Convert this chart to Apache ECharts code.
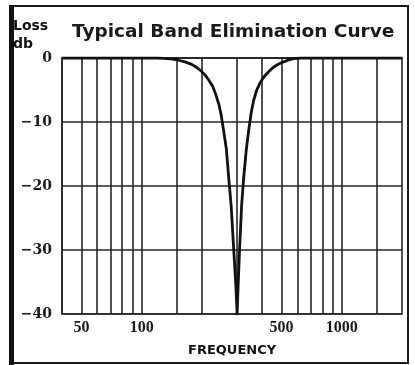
<!DOCTYPE html>
<html>
<head>
<meta charset="utf-8">
<script src="https://cdn.jsdelivr.net/npm/echarts@6/dist/echarts.min.js"></script>
<style>
html,body{margin:0;padding:0;background:#fff;}
#c{width:415px;height:365px;}
</style>
</head>
<body>
<div id="c"></div>
<script>
// Frequency (Hz) and loss (db)
var frequencies = [40, 120, 129, 140, 153, 166, 178, 188, 197, 207, 216, 227, 234, 243, 250, 257, 265, 272, 280, 288, 295, 300,
  304, 309, 316, 324, 333, 343, 353, 363, 376, 389, 407, 432, 457, 484, 513, 543, 575, 624, 2000];
var lossDb = [0, 0, -0.05, -0.15, -0.35, -0.65, -1.0, -1.45, -1.95, -2.6, -3.4, -4.5, -5.6, -7.2, -9.0, -11.4, -14.2, -18.5, -23, -29.5, -35, -40,
  -35, -29.5, -23, -18.5, -14.5, -11.2, -8.5, -6.6, -5.0, -4.0, -3.0, -2.1, -1.4, -0.95, -0.6, -0.3, -0.1, 0, 0];
var gridFreqs = [50, 60, 70, 80, 90, 100, 150, 200, 300, 400, 500, 600, 700, 800, 900, 1000, 1500];
var xTickLabels = [50, 100, 500, 1000];
var yTicks = [0, -10, -20, -30, -40];

var chart = echarts.init(document.getElementById('c'), null, {renderer: 'canvas'});
var lineCol = '#262626';
var data = frequencies.map(function (f, i) { return [f, lossDb[i]]; });

chart.setOption({
  animation: false,
  backgroundColor: '#ffffff',
  grid: {left: 62, right: 13, top: 58, bottom: 51, show: true, borderColor: lineCol, borderWidth: 1.6, backgroundColor: 'transparent'},
  xAxis: {
    type: 'log', logBase: 10, min: 40, max: 2000,
    axisLine: {show: true, lineStyle: {color: lineCol, width: 1.6}},
    axisTick: {show: false},
    splitLine: {show: false},
    minorSplitLine: {show: false},
    axisLabel: {
      customValues: xTickLabels,
      formatter: function (v) { return String(v); },
      margin: 6,
      color: '#1a1a1a', fontFamily: 'Liberation Serif', fontWeight: 'bold', fontSize: 16
    }
  },
  yAxis: {
    type: 'value', min: -40, max: 0, interval: 10,
    axisLine: {show: true, lineStyle: {color: lineCol, width: 1.6}},
    axisTick: {show: false},
    splitLine: {show: true, lineStyle: {color: lineCol, width: 1.6}},
    axisLabel: {
      customValues: yTicks,
      margin: 10, color: '#1a1a1a', fontFamily: 'DejaVu Serif', fontWeight: 'bold', fontSize: 14,
      formatter: function (v) { return v < 0 ? '\u2212' + (-v) : String(v); }
    }
  },
  series: [{
    type: 'line',
    data: data,
    showSymbol: false,
    smooth: false,
    lineStyle: {color: '#111', width: 2.8, join: 'round'},
    z: 5,
    markLine: {
      silent: true,
      symbol: ['none', 'none'],
      label: {show: false},
      lineStyle: {color: lineCol, width: 1.6, type: 'solid'},
      data: gridFreqs.map(function (f) { return {xAxis: f}; }),
      z: 2
    }
  }],
  graphic: [
    {type: 'rect', shape: {x: 10, y: 6, width: 398, height: 357}, style: {fill: 'none', stroke: '#1a1a1a', lineWidth: 2}},
    {type: 'rect', shape: {x: 9, y: 5, width: 5, height: 360}, style: {fill: '#111'}},
    {type: 'text', left: 72, top: 23, style: {text: 'Typical Band Elimination Curve', font: 'bold 18.5px "DejaVu Sans"', fill: '#1a1a1a'}},
    {type: 'text', left: 13, top: 19, style: {text: 'Loss', font: 'bold 14px "DejaVu Sans"', fill: '#111'}},
    {type: 'text', left: 13, top: 37, style: {text: 'db', font: 'bold 14px "DejaVu Sans"', fill: '#111'}},
    {type: 'text', left: 188, top: 344, style: {text: 'FREQUENCY', font: 'bold 13px "DejaVu Sans"', fill: '#111'}}
  ]
});
</script>
</body>
</html>
